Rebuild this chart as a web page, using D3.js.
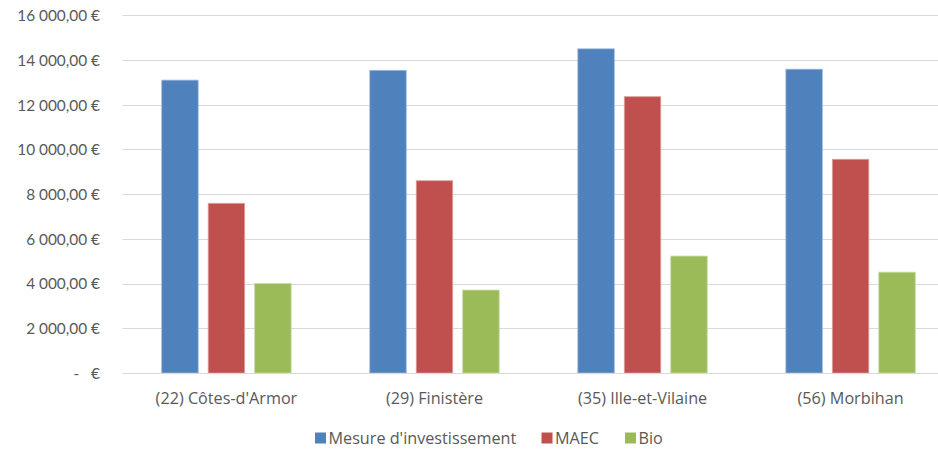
<!DOCTYPE html>
<html>
<head>
<meta charset="utf-8">
<script src="https://cdn.jsdelivr.net/npm/d3@7"></script>
<style>
  html, body { margin: 0; padding: 0; background: #fff; }
  svg { display: block; }
  text { font-family: "Open Sans", Lato, sans-serif; fill: #595959; }
</style>
</head>
<body>
<svg id="chart" width="938" height="450"></svg>
<script>
// Departments of Brittany
const categories = ["(22) Côtes-d'Armor", "(29) Finistère", "(35) Ille-et-Vilaine", "(56) Morbihan"];
const seriesNames = ["Mesure d'investissement", "MAEC", "Bio"];
const seriesColors = ["#4F81BD", "#C0504D", "#9BBB59"];
const investissement = [13100, 13540, 14500, 13590];
const maec = [7590, 8600, 12360, 9560];
const bio = [4000, 3710, 5230, 4510];
const yTicks = [0, 2000, 4000, 6000, 8000, 10000, 12000, 14000, 16000];
const yTickLabels = ["-   €", "2 000,00 €", "4 000,00 €", "6 000,00 €", "8 000,00 €",
                     "10 000,00 €", "12 000,00 €", "14 000,00 €", "16 000,00 €"];

const seriesValues = [investissement, maec, bio];

const svg = d3.select("#chart");
const plot = { left: 122.4, right: 954.6, top: 15.3, bottom: 373 };

const x0 = d3.scaleBand()
  .domain(categories)
  .range([plot.left, plot.right])
  .paddingInner(0.378)
  .paddingOuter(0.189);

const x1 = d3.scaleBand()
  .domain(seriesNames)
  .range([0, x0.bandwidth()])
  .paddingInner(0.215)
  .paddingOuter(0);

const y = d3.scaleLinear().domain([0, 16000]).range([plot.bottom, plot.top]);

// Horizontal gridlines
svg.append("g")
  .selectAll("line")
  .data(yTicks)
  .join("line")
  .attr("x1", plot.left)
  .attr("x2", plot.right)
  .attr("y1", d => Math.round(y(d)) + 0.5)
  .attr("y2", d => Math.round(y(d)) + 0.5)
  .attr("stroke", "#d9d9d9")
  .attr("stroke-width", 1.2);

// Y axis labels
const yAxis = d3.axisLeft(y)
  .tickValues(yTicks)
  .tickSize(0)
  .tickPadding(0)
  .tickFormat((d, i) => yTickLabels[i]);

svg.append("g")
  .attr("transform", "translate(100,0)")
  .call(yAxis)
  .call(g => g.select(".domain").remove())
  .call(g => g.selectAll("text")
    .style("font-family", "Lato, sans-serif")
    .style("font-size", "15.4px")
    .attr("fill", "#595959")
    .attr("dy", "0.35em")
    .style("white-space", "pre")
    .attr("xml:space", "preserve"));

// Bars
const groups = svg.append("g")
  .selectAll("g")
  .data(categories)
  .join("g")
  .attr("transform", d => `translate(${x0(d)},0)`);

groups.selectAll("rect")
  .data((c, ci) => seriesNames.map((s, si) => ({ s, si, v: seriesValues[si][ci] })))
  .join("rect")
  .attr("x", d => x1(d.s))
  .attr("width", x1.bandwidth())
  .attr("y", d => y(d.v))
  .attr("height", d => y(0) - y(d.v))
  .attr("fill", d => seriesColors[d.si])
  .attr("stroke", d => d3.interpolateRgb(seriesColors[d.si], "#ffffff")(0.45))
  .attr("stroke-width", 0.8);

// X axis baseline and category labels
const xAxis = d3.axisBottom(x0).tickSize(0).tickPadding(0);
svg.append("g")
  .attr("transform", `translate(0,${plot.bottom})`)
  .call(xAxis)
  .call(g => g.select(".domain")
    .attr("d", `M${plot.left},0.5H${plot.right}`)
    .attr("stroke", "#d9d9d9")
    .attr("stroke-width", 1.2))
  .call(g => g.selectAll("text")
    .style("font-size", "16.2px")
    .attr("fill", "#595959")
    .attr("y", 25)
    .attr("dy", "0.35em"));

// Legend
const legendItems = [
  { name: seriesNames[0], color: seriesColors[0], x: 315 },
  { name: seriesNames[1], color: seriesColors[1], x: 541.5 },
  { name: seriesNames[2], color: seriesColors[2], x: 625 }
];
const legend = svg.append("g");
const li = legend.selectAll("g").data(legendItems).join("g")
  .attr("transform", d => `translate(${d.x},438)`);
li.append("rect")
  .attr("x", 0).attr("y", -5.5).attr("width", 11).attr("height", 11)
  .attr("fill", d => d.color);
li.append("text")
  .attr("x", 13.5)
  .attr("dy", "0.35em")
  .style("font-size", "16.2px")
  .text(d => d.name);
</script>
</body>
</html>
